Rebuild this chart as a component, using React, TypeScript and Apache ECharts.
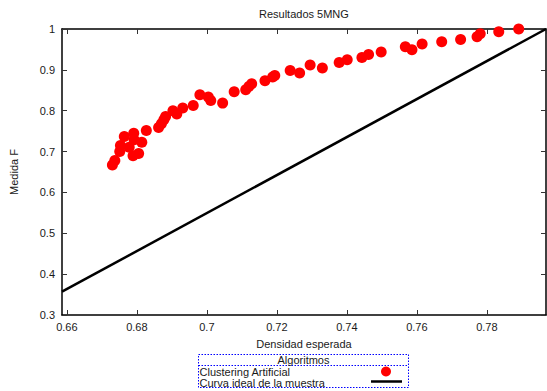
import React, { useEffect, useRef } from "react";
import * as echarts from "echarts";

// Densidad esperada (x) / Medida F (y) for each clustering run
const densidad: number[] = [
  0.673, 0.6737, 0.6751, 0.6753, 0.6764, 0.6778, 0.6789, 0.6791, 0.6792, 0.6805,
  0.6814, 0.6827, 0.6862, 0.687, 0.6877, 0.6882, 0.6903, 0.6914, 0.6931, 0.6961,
  0.698, 0.7004, 0.7011, 0.7045, 0.7078, 0.7111, 0.712, 0.7128, 0.7166, 0.7188,
  0.7194, 0.7238, 0.7265, 0.7295, 0.733, 0.7378, 0.7401, 0.7443, 0.7462, 0.7498,
  0.7567, 0.7586, 0.7615, 0.7671, 0.7725, 0.7772, 0.7781, 0.7834, 0.7891,
];
const medidaF: number[] = [
  0.6674, 0.6779, 0.7, 0.7147, 0.7368, 0.7108, 0.6895, 0.7451, 0.7287, 0.6951,
  0.723, 0.7515, 0.7588, 0.7679, 0.7777, 0.7858, 0.7998, 0.7917, 0.8064, 0.8127,
  0.839, 0.8333, 0.825, 0.8186, 0.8463, 0.8512, 0.8593, 0.8659, 0.8733, 0.8824,
  0.8863, 0.8985, 0.8922, 0.9118, 0.9044, 0.9181, 0.9248, 0.9304, 0.9377, 0.9436,
  0.9566, 0.9493, 0.9632, 0.9689, 0.9745, 0.9811, 0.9885, 0.9934, 1.0,
];

// Ideal sample curve (straight line between its two end points)
const idealX: number[] = [0.6586, 0.7969];
const idealY: number[] = [0.357, 1.0];

const X_MIN = 0.6586;
const X_MAX = 0.7969;
const Y_MIN = 0.3;
const Y_MAX = 1.0;

const FONT = '"Liberation Sans", Arial, Helvetica, sans-serif';
const TEXT = "#1a1a1a";

export default function App() {
  const ref = useRef<HTMLDivElement>(null);

  useEffect(() => {
    if (!ref.current) return;
    const chart = echarts.init(ref.current, undefined, { renderer: "svg" });

    const tick = { show: true, inside: true, length: 5, lineStyle: { color: "#333", width: 1 } };
    const frame = { show: true, onZero: false, lineStyle: { color: "#000", width: 1.5 } };

    chart.setOption({
      animation: false,
      backgroundColor: "#fff",
      textStyle: { fontFamily: FONT },
      title: {
        text: "Resultados 5MNG",
        left: 259,
        top: 8,
        padding: 0,
        textStyle: { fontSize: 11, fontWeight: "normal", color: TEXT, fontFamily: FONT },
      },
      grid: { left: 58, right: 1, top: 29, bottom: 76, containLabel: false },
      xAxis: [
        {
          type: "value",
          min: X_MIN,
          max: X_MAX,
          splitNumber: 7,
          position: "bottom",
          name: "Densidad esperada",
          nameLocation: "middle",
          nameGap: 23,
          nameTextStyle: { fontSize: 11, color: TEXT, fontFamily: FONT },
          axisLine: frame,
          axisTick: tick,
          axisLabel: {
            fontSize: 11,
            color: TEXT,
            margin: 6,
            fontFamily: FONT,
            showMinLabel: false,
            showMaxLabel: false,
          },
          splitLine: { show: false },
        },
        {
          type: "value",
          min: X_MIN,
          max: X_MAX,
          splitNumber: 7,
          position: "top",
          axisLine: frame,
          axisTick: tick,
          axisLabel: { show: false },
          splitLine: { show: false },
        },
      ],
      yAxis: [
        {
          type: "value",
          min: Y_MIN,
          max: Y_MAX,
          interval: 0.1,
          position: "left",
          name: "Medida F",
          nameLocation: "middle",
          nameGap: 43,
          nameRotate: 90,
          nameTextStyle: { fontSize: 11, color: TEXT, fontFamily: FONT },
          axisLine: frame,
          axisTick: tick,
          axisLabel: { fontSize: 11, color: TEXT, margin: 7, fontFamily: FONT },
          splitLine: { show: false },
        },
        {
          type: "value",
          min: Y_MIN,
          max: Y_MAX,
          interval: 0.1,
          position: "right",
          axisLine: frame,
          axisTick: tick,
          axisLabel: { show: false },
          splitLine: { show: false },
        },
      ],
      series: [
        {
          name: "Curva ideal de la muestra",
          type: "line",
          data: idealX.map((x, i) => [x, idealY[i]]),
          showSymbol: false,
          symbol: "none",
          lineStyle: { color: "#000", width: 2.5 },
          z: 2,
        },
        {
          name: "Clustering Artificial",
          type: "scatter",
          data: densidad.map((x, i) => [x, medidaF[i]]),
          symbol: "circle",
          symbolSize: 11,
          itemStyle: { color: "#ff0000", opacity: 1 },
          clip: false,
          z: 3,
        },
      ],
      graphic: [
        {
          type: "rect",
          shape: { x: 198.5, y: 354.5, width: 210, height: 33 },
          style: { fill: "none", stroke: "#0000ff", lineWidth: 1, lineDash: [1.5, 1.5] },
        },
        {
          type: "line",
          shape: { x1: 198.5, y1: 365.5, x2: 408.5, y2: 365.5 },
          style: { stroke: "#0000ff", lineWidth: 1, lineDash: [1.5, 1.5] },
        },
        {
          type: "text",
          x: 303.5,
          y: 360,
          style: {
            text: "Algoritmos",
            fill: TEXT,
            font: `11px ${FONT}`,
            textAlign: "center",
            textVerticalAlign: "middle",
          },
        },
        {
          type: "text",
          x: 199.5,
          y: 371.5,
          style: {
            text: "Clustering Artificial",
            fill: TEXT,
            font: `11px ${FONT}`,
            textAlign: "left",
            textVerticalAlign: "middle",
          },
        },
        {
          type: "text",
          x: 199.5,
          y: 382.5,
          style: {
            text: "Curva ideal de la muestra",
            fill: TEXT,
            font: `11px ${FONT}`,
            textAlign: "left",
            textVerticalAlign: "middle",
          },
        },
        {
          type: "circle",
          shape: { cx: 386, cy: 371.5, r: 5 },
          style: { fill: "#ff0000" },
        },
        {
          type: "line",
          shape: { x1: 371, y1: 381.5, x2: 402, y2: 381.5 },
          style: { stroke: "#000", lineWidth: 2.5 },
        },
      ],
    });

    return () => chart.dispose();
  }, []);

  return (
    <div
      ref={ref}
      style={{ position: "fixed", left: 0, top: 0, width: 547, height: 391, background: "#fff" }}
    />
  );
}
